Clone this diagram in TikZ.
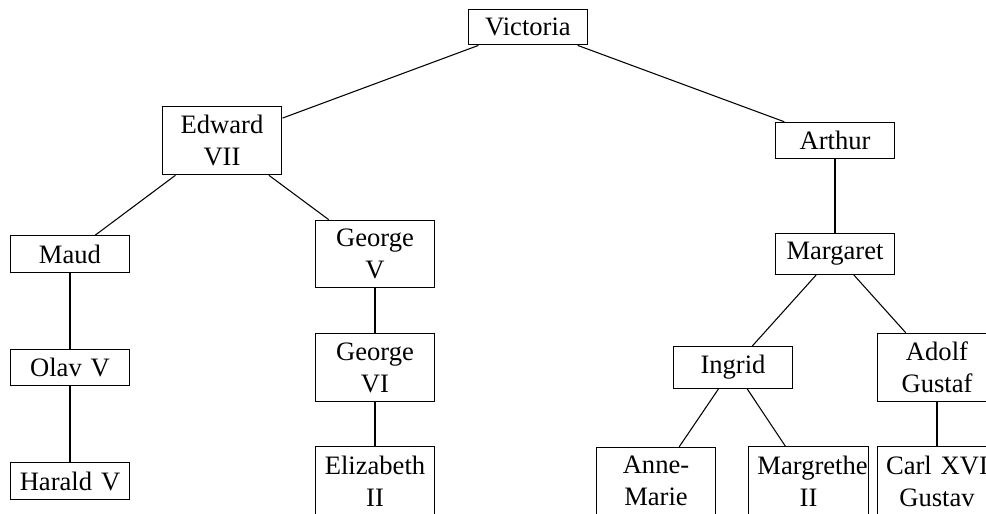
\documentclass[tikz,border=0pt]{standalone}
\usepackage{fontspec}
\setmainfont{Liberation Serif}

\begin{document}
\begin{tikzpicture}[x=0.01321cm, y=-0.01321cm,
    person/.style={draw, text width=1.35cm, align=center, anchor=center}]
      \useasboundingbox (0,0) rectangle (986,513);
      \clip (0,0) rectangle (986,513);
      % generations, top to bottom
      \node[person] (victoria) at (528, 27) {Victoria};
      \node[person] (edward) at (222, 140.5) {Edward\\VII};
      \node[person] (arthur) at (835, 140.5) {Arthur};
      \node[person] (maud) at (70, 254) {Maud};
      \node[person] (georgeV) at (375, 254) {George\\V};
      \node[person] (margaret) at (835, 254) {Margaret};
      \node[person] (olav) at (70, 367.5) {Olav V};
      \node[person] (georgeVI) at (375, 367.5) {George\\VI};
      \node[person] (ingrid) at (733, 367.5) {Ingrid};
      \node[person] (adolf) at (937, 367.5) {Adolf\\Gustaf};
      \node[person] (harald) at (70, 481) {Harald V};
      \node[person] (elizabeth) at (375, 481) {Elizabeth\\II};
      \node[person] (annemarie) at (656, 481) {Anne-\\Marie};
      \node[person] (margrethe) at (808.5, 481) {Margrethe\\II};
      \node[person] (carl) at (937, 481) {Carl XVI\\Gustav};
      % parent -- child
      \draw (victoria) -- (edward);
      \draw (victoria) -- (arthur);
      \draw (edward) -- (maud);
      \draw (edward) -- (georgeV);
      \draw (maud) -- (olav);
      \draw (olav) -- (harald);
      \draw (georgeV) -- (georgeVI);
      \draw (georgeVI) -- (elizabeth);
      \draw (arthur) -- (margaret);
      \draw (margaret) -- (ingrid);
      \draw (margaret) -- (adolf);
      \draw (ingrid) -- (annemarie);
      \draw (ingrid) -- (margrethe);
      \draw (adolf) -- (carl);
    \end{tikzpicture}
\end{document}
